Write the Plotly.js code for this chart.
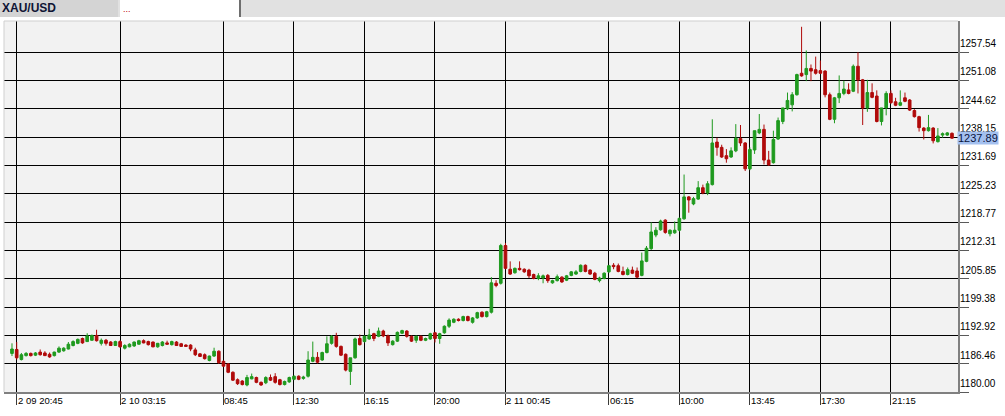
<!DOCTYPE html>
<html>
<head>
<meta charset="utf-8">
<script src="https://cdn.plot.ly/plotly-3.0.1.min.js"></script>
<style>
  html, body { margin:0; padding:0; background:#fff; overflow:hidden; }
  #chart { position:absolute; left:0; top:0; width:1005px; height:416px; }
  #tabs { position:absolute; left:0; top:0; width:1005px; height:17px; background:#e1e1e1; z-index:10; }
  #tab1 { position:absolute; left:0; top:0; width:118px; height:17px; background:#d4d4d4;
          font-family:"Liberation Sans", Arial, sans-serif; font-weight:bold; font-size:12px;
          color:#0f1535; line-height:17px; padding-left:2px; box-sizing:border-box; }
  #tab2 { position:absolute; left:120px; top:0; width:116px; height:17px; background:#fff;
          border-right:2px solid #6e6e6e; font-family:"Liberation Sans", Arial, sans-serif;
          font-size:9px; color:#c00000; line-height:19px; padding-left:3px; box-sizing:content-box; }
</style>
</head>
<body>
<div id="tabs"><div id="tab1">XAU/USD</div><div id="tab2">...</div></div>
<div id="chart"></div>
<script>
// ---- data (15-minute candles, XAU/USD) ----
const opens = [
1188.8,1189.7,1187.4,1188.3,1188.8,1188.4,1189.1,1188.9,1188.6,1188.3,
1189.1,1189.4,1189.8,1190.6,1191.1,1192.2,1191.5,1191.8,1192.9,1191.1,
1191.8,1191.4,1190.6,1191.5,1190.0,1190.3,1190.5,1190.9,1191.7,1191.5,
1191.4,1190.3,1190.6,1191.2,1190.8,1191.4,1191.0,1190.7,1190.7,1189.6,
1188.7,1188.5,1187.2,1188.2,1189.3,1187.0,1186.4,1184.5,1182.8,1182.5,
1181.6,1183.0,1183.3,1182.2,1182.1,1183.3,1183.5,1182.8,1181.7,1182.3,
1182.9,1183.6,1183.1,1183.6,1187.0,1187.9,1187.3,1189.0,1191.1,1192.7,
1190.4,1188.6,1184.7,1187.8,1192.2,1191.5,1192.1,1193.3,1192.7,1193.9,
1192.8,1190.8,1191.6,1193.4,1193.9,1192.7,1191.8,1192.7,1191.8,1192.1,
1193.5,1192.2,1193.5,1195.0,1195.9,1196.6,1196.3,1197.2,1195.9,1196.9,
1198.2,1197.2,1198.2,1204.8,1204.8,1213.4,1208.0,1207.2,1208.2,1208.0,
1207.8,1206.8,1205.9,1206.0,1206.6,1204.9,1205.4,1206.2,1205.5,1206.6,
1206.9,1207.5,1208.9,1207.8,1207.1,1205.4,1205.9,1207.4,1208.9,1208.8,
1207.5,1206.8,1207.8,1207.6,1206.6,1209.8,1212.7,1215.8,1217.0,1219.2,
1216.1,1216.3,1216.9,1219.5,1224.5,1222.9,1224.0,1226.6,1225.4,1227.3,
1237.0,1235.8,1233.9,1233.6,1235.0,1237.8,1236.8,1230.9,1235.2,1239.1,
1239.9,1232.9,1232.3,1237.7,1241.7,1244.6,1245.5,1247.8,1252.7,1252.4,
1253.8,1253.5,1253.3,1253.2,1247.8,1242.2,1247.1,1248.1,1248.9,1248.6,
1254.3,1251.2,1244.8,1248.3,1247.5,1241.7,1244.8,1248.1,1246.2,1245.4,
1247.1,1246.6,1244.2,1242.8,1240.2,1239.6,1240.2,1237.1,1238.6,1238.6,
1239.0
];
const highs = [
1191.1,1191.4,1188.9,1189.1,1189.0,1189.1,1189.7,1189.3,1189.0,1189.2,
1190.4,1190.2,1191.4,1191.8,1192.2,1192.4,1193.4,1193.1,1194.2,1192.2,
1192.1,1191.6,1191.7,1191.8,1190.9,1191.1,1191.5,1191.9,1192.0,1191.7,
1191.5,1191.2,1191.6,1191.7,1191.7,1191.6,1191.2,1190.9,1190.9,1190.1,
1188.9,1188.8,1188.3,1190.1,1189.5,1187.2,1186.6,1184.7,1183.1,1182.7,
1183.9,1184.2,1183.5,1182.4,1183.6,1184.0,1184.3,1183.0,1182.6,1183.5,
1183.8,1183.8,1183.7,1189.3,1191.5,1189.1,1189.2,1192.7,1193.0,1193.5,
1190.6,1188.8,1187.8,1192.4,1193.1,1192.9,1194.4,1193.5,1194.7,1194.2,
1193.1,1191.8,1193.8,1194.2,1194.1,1192.9,1192.9,1192.9,1192.4,1193.5,
1193.7,1193.5,1195.2,1196.8,1196.8,1196.8,1197.4,1197.4,1197.1,1198.3,
1198.4,1198.5,1206.2,1205.5,1213.8,1214.0,1209.8,1208.4,1209.8,1208.2,
1208.1,1207.0,1207.1,1206.8,1206.9,1205.6,1206.8,1206.4,1206.7,1207.6,
1207.8,1209.1,1209.1,1208.0,1207.4,1206.3,1207.3,1209.0,1209.4,1209.3,
1208.6,1208.4,1208.6,1208.4,1211.8,1213.3,1218.7,1217.6,1219.3,1219.4,
1217.1,1218.9,1219.8,1229.6,1224.7,1224.5,1228.1,1227.3,1228.1,1242.2,
1238.0,1236.4,1235.4,1235.8,1241.1,1240.9,1237.0,1235.8,1239.6,1243.4,
1241.0,1235.0,1239.6,1242.6,1244.8,1248.3,1248.4,1252.6,1263.3,1257.9,
1254.7,1256.5,1255.6,1253.4,1248.3,1247.3,1252.2,1251.0,1250.4,1254.7,
1257.5,1251.4,1251.2,1250.4,1248.8,1244.8,1248.6,1248.8,1247.1,1248.8,
1248.3,1246.8,1244.5,1243.0,1240.4,1243.2,1240.4,1240.2,1239.2,1239.3,
1239.2
];
const lows = [
1188.2,1187.4,1187.2,1188.1,1188.1,1188.2,1188.3,1188.2,1187.8,1188.1,
1188.9,1189.2,1189.7,1190.4,1190.9,1191.0,1191.4,1191.7,1191.5,1190.6,
1190.6,1190.5,1190.5,1190.1,1189.7,1190.2,1190.3,1190.8,1191.1,1190.6,
1190.2,1190.1,1190.4,1190.8,1190.6,1190.5,1190.3,1190.3,1189.3,1188.2,
1188.0,1187.4,1187.0,1188.0,1186.4,1185.7,1184.3,1182.5,1181.6,1181.5,
1181.3,1182.9,1182.0,1181.4,1181.8,1182.5,1181.9,1181.5,1181.5,1182.1,
1182.7,1182.7,1182.8,1183.3,1186.8,1186.5,1187.1,1188.8,1190.8,1190.1,
1188.2,1184.7,1181.6,1187.6,1190.6,1191.3,1191.9,1191.6,1192.5,1192.5,
1190.5,1190.6,1191.4,1193.2,1192.4,1191.4,1191.2,1191.6,1191.6,1191.9,
1191.3,1191.0,1193.3,1194.6,1195.7,1196.1,1196.1,1196.1,1195.6,1196.7,
1197.0,1197.0,1197.9,1203.9,1204.5,1208.0,1206.7,1207.0,1207.7,1207.2,
1206.0,1205.7,1205.5,1204.8,1204.9,1204.7,1205.2,1204.9,1205.3,1206.4,
1206.7,1207.3,1207.3,1206.7,1205.5,1205.0,1205.7,1207.2,1208.0,1207.3,
1206.6,1206.6,1206.9,1206.0,1206.4,1209.6,1212.4,1215.3,1216.8,1216.1,
1215.5,1216.1,1216.6,1219.3,1220.9,1222.6,1223.8,1225.1,1224.9,1227.1,
1233.9,1233.4,1232.3,1233.4,1234.7,1236.1,1230.4,1230.6,1234.3,1238.8,
1231.9,1231.6,1232.1,1237.5,1241.1,1244.3,1244.0,1247.6,1251.9,1250.9,
1250.9,1252.4,1252.5,1247.2,1242.0,1241.3,1245.9,1247.7,1247.9,1248.4,
1248.1,1240.9,1243.9,1247.0,1241.5,1240.8,1243.1,1245.7,1245.2,1245.2,
1246.1,1244.1,1242.6,1239.4,1237.6,1239.4,1236.7,1236.9,1238.0,1238.4,
1237.8
];
const closes = [
1189.8,1187.8,1188.5,1188.8,1188.3,1188.9,1188.5,1188.3,1188.0,1189.1,
1190.0,1190.0,1190.9,1191.5,1192.0,1191.2,1192.8,1192.9,1191.7,1191.8,
1191.1,1190.6,1191.5,1190.3,1190.6,1190.9,1191.4,1191.7,1191.2,1190.8,
1190.3,1191.1,1191.4,1190.9,1191.5,1190.6,1190.4,1190.4,1189.8,1188.5,
1188.1,1187.6,1188.2,1189.3,1186.7,1185.9,1184.5,1182.7,1181.9,1181.7,
1183.3,1183.5,1182.2,1181.6,1183.3,1182.7,1182.2,1181.7,1182.4,1183.3,
1183.6,1182.9,1183.4,1187.3,1187.9,1186.8,1189.0,1191.0,1192.7,1190.4,
1188.4,1185.0,1187.8,1192.1,1190.8,1192.7,1193.0,1192.2,1193.9,1192.8,
1191.2,1191.6,1193.6,1194.0,1192.7,1191.6,1192.7,1191.8,1192.2,1193.3,
1192.2,1193.3,1195.0,1196.4,1196.6,1196.3,1197.2,1196.3,1196.9,1198.1,
1197.2,1198.3,1204.9,1204.3,1213.4,1208.2,1206.9,1208.2,1207.9,1207.4,
1206.5,1205.9,1206.5,1206.5,1205.4,1205.4,1206.3,1205.1,1206.5,1207.4,
1207.4,1208.9,1207.5,1206.9,1205.7,1206.0,1207.1,1208.8,1208.6,1207.5,
1206.8,1207.9,1207.1,1206.2,1209.9,1212.8,1216.5,1216.9,1219.0,1216.4,
1216.9,1216.9,1219.6,1224.5,1223.8,1224.1,1226.6,1225.4,1227.5,1236.8,
1235.8,1233.6,1233.2,1235.0,1237.9,1236.8,1230.9,1235.3,1239.6,1239.9,
1232.9,1231.8,1237.6,1241.9,1244.8,1246.5,1247.8,1252.4,1252.1,1253.8,
1253.2,1252.7,1252.7,1247.8,1242.2,1247.1,1248.1,1249.1,1248.1,1254.3,
1251.2,1244.8,1248.3,1247.2,1241.7,1244.8,1248.1,1246.0,1245.4,1246.0,
1246.3,1244.3,1242.8,1240.3,1239.6,1240.3,1237.3,1238.4,1238.9,1239.1,
1237.9
];
const tickIdx  = [1, 23, 45, 60, 75, 90, 105, 127, 142, 157, 172, 187];
const tickText = ['2 09 20:45','2 10 03:15','08:45','12:30','16:15','20:00',
                  '2 11 00:45','06:15','10:00','13:45','17:30','21:15'];
const priceTicks = [1180.00,1186.46,1192.92,1199.38,1205.85,1212.31,1218.77,
                    1225.23,1231.69,1238.15,1244.62,1251.08,1257.54];
const lastPrice = 1237.89;

// ---- chart ----
const xs = closes.map((_, i) => i);
const FONT = '"Liberation Sans", Arial, sans-serif';

const trace = {
  type: 'candlestick',
  x: xs, open: opens, high: highs, low: lows, close: closes,
  increasing: { line: { color: '#1f9a1f', width: 1 }, fillcolor: '#1f9a1f' },
  decreasing: { line: { color: '#b00a0a', width: 1 }, fillcolor: '#b00a0a' },
  whiskerwidth: 0,
  hoverinfo: 'skip'
};

const annotations = [];
tickIdx.forEach((t, k) => {
  annotations.push({
    x: t, xref: 'x', y: 0, yref: 'paper', yanchor: 'top', xanchor: 'left',
    xshift: -1, yshift: -1, showarrow: false, text: tickText[k],
    font: { family: FONT, size: 9.5, color: '#000' }
  });
});
priceTicks.forEach(v => {
  annotations.push({
    x: 1, xref: 'paper', y: v, yref: 'y', xanchor: 'left', yanchor: 'bottom',
    xshift: 0, yshift: 1, showarrow: false, text: v.toFixed(2),
    font: { family: FONT, size: 10, color: '#000' }
  });
});
annotations.push({
  x: 1, xref: 'paper', y: lastPrice, yref: 'y', xanchor: 'left', yanchor: 'middle',
  xshift: -1, showarrow: false, text: lastPrice.toFixed(2),
  bgcolor: '#a3c0ef', borderpad: 0,
  font: { family: FONT, size: 11, color: '#0a1440' }
});

const layout = {
  width: 1005, height: 416,
  margin: { l: 4, r: 47, t: 21, b: 24, pad: 0 },
  paper_bgcolor: '#ffffff',
  plot_bgcolor: '#f2f2f2',
  showlegend: false,
  dragmode: false,
  boxgap: 0.2,
  xaxis: {
    type: 'linear', range: [-1.7, 201.28], fixedrange: true,
    tickvals: tickIdx, showticklabels: false,
    ticks: 'outside', ticklen: 11, tickcolor: '#3a3a3a', tickwidth: 1,
    showgrid: true, gridcolor: '#000000', gridwidth: 1,
    zeroline: false, showline: true, linecolor: '#808080', linewidth: 2,
    rangeslider: { visible: false }
  },
  yaxis: {
    side: 'right', range: [1180, 1264.62], fixedrange: true,
    tickvals: priceTicks, showticklabels: false,
    ticks: 'outside', ticklen: 9, tickcolor: '#5a5a5a', tickwidth: 1,
    showgrid: true, gridcolor: '#000000', gridwidth: 1,
    zeroline: false, showline: true, linecolor: '#808080', linewidth: 2
  },
  shapes: [
    { type: 'line', xref: 'paper', yref: 'paper', x0: 0, x1: 1, y0: 1, y1: 1,
      line: { color: '#cfcfcf', width: 1 } },
    { type: 'line', xref: 'paper', yref: 'paper', x0: 0, x1: 0, y0: 0, y1: 1,
      line: { color: '#cfcfcf', width: 1 } }
  ],
  annotations: annotations
};

Plotly.newPlot('chart', [trace], layout, { displayModeBar: false, staticPlot: true });
</script>
</body>
</html>
